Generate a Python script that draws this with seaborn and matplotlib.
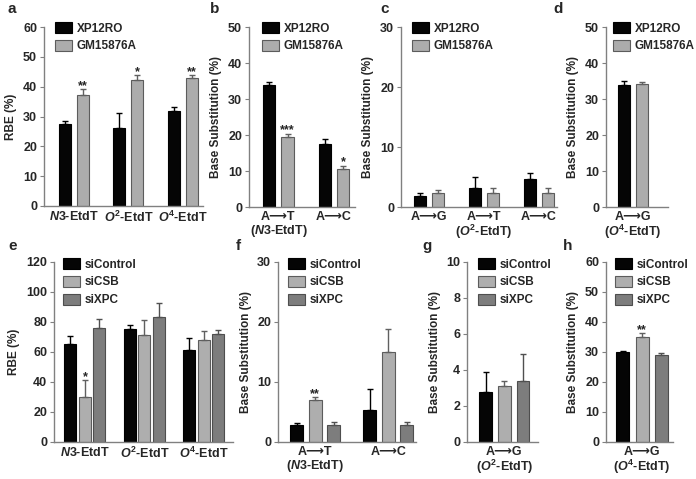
import numpy as np
import pandas as pd
import matplotlib as mpl
import matplotlib.pyplot as plt
from matplotlib.patches import Patch
import seaborn as sns

# values (mean, upper error)
cells_top = ['XP12RO', 'GM15876A']
cells_bot = ['siControl', 'siCSB', 'siXPC']

ARROW = '\u27f6'

a_groups = [r'$\mathit{N}$3-EtdT', r'$\mathit{O}^{\mathrm{2}}$-EtdT', r'$\mathit{O}^{\mathrm{4}}$-EtdT']
a_xp = [27.5, 26.3, 31.7]
a_xp_err = [1.1, 5.0, 1.4]
a_gm = [37.2, 42.1, 42.9]
a_gm_err = [2.0, 1.7, 0.9]
a_stars = [['', '', ''], ['**', '*', '**']]

b_groups = ['A' + ARROW + 'T\n($\\mathit{N}$3-EtdT)', 'A' + ARROW + 'C']
b_xp = [33.8, 17.4]
b_xp_err = [0.9, 1.6]
b_gm = [19.4, 10.5]
b_gm_err = [1.0, 1.0]
b_stars = [['', ''], ['***', '*']]

c_groups = ['A' + ARROW + 'G', 'A' + ARROW + 'T\n($\\mathit{O}^{\\mathrm{2}}$-EtdT)', 'A' + ARROW + 'C']
c_xp = [1.85, 3.2, 4.6]
c_xp_err = [0.5, 1.8, 1.0]
c_gm = [2.4, 2.3, 2.3]
c_gm_err = [0.5, 0.9, 0.9]

d_groups = ['A' + ARROW + 'G\n($\\mathit{O}^{\\mathrm{4}}$-EtdT)']
d_xp = [33.9]
d_xp_err = [1.1]
d_gm = [34.1]
d_gm_err = [0.5]

e_groups = a_groups
e_ctrl = [65.4, 75.2, 61.6]
e_ctrl_err = [5.5, 2.9, 8.0]
e_csb = [29.9, 71.2, 68.3]
e_csb_err = [11.4, 10.0, 5.4]
e_xpc = [75.9, 83.3, 72.3]
e_xpc_err = [5.8, 9.7, 2.3]
e_stars = [['', '', ''], ['*', '', ''], ['', '', '']]

f_groups = b_groups
f_ctrl = [2.8, 5.4]
f_ctrl_err = [0.4, 3.4]
f_csb = [7.0, 15.0]
f_csb_err = [0.5, 3.8]
f_xpc = [2.9, 2.9]
f_xpc_err = [0.4, 0.4]
f_stars = [['', ''], ['**', ''], ['', '']]

g_groups = ['A' + ARROW + 'G\n($\\mathit{O}^{\\mathrm{2}}$-EtdT)']
g_ctrl = [2.8]
g_ctrl_err = [1.1]
g_csb = [3.1]
g_csb_err = [0.3]
g_xpc = [3.4]
g_xpc_err = [1.5]

h_groups = d_groups
h_ctrl = [30.0]
h_ctrl_err = [0.3]
h_csb = [35.1]
h_csb_err = [1.2]
h_xpc = [29.0]
h_xpc_err = [0.7]
h_stars = [[''], ['**'], ['']]

sns.set_style('white')
plt.rcParams['font.family'] = ['Liberation Sans', 'DejaVu Sans']
plt.rcParams['font.weight'] = 'bold'
plt.rcParams['axes.labelweight'] = 'bold'
plt.rcParams['mathtext.fontset'] = 'custom'
plt.rcParams['mathtext.rm'] = 'Liberation Sans:bold'
plt.rcParams['mathtext.it'] = 'Liberation Sans:italic:bold'
plt.rcParams['mathtext.bf'] = 'Liberation Sans:bold'

top_cols = ['#050505', '#acacac']
top_edges = ['#000000', '#5c5c5c']
top_err = ['#000000', '#606060']
bot_cols = ['#050505', '#aeaeae', '#7d7d7d']
bot_edges = ['#000000', '#5c5c5c', '#4e4e4e']
bot_err = ['#000000', '#606060', '#505050']

W, H = 696, 479
fig = plt.figure(figsize=(W / 100, H / 100), dpi=100)


def add_panel(rect, groups, series, values, errors, colors, edges, errcols,
              width, gap, xlim, yticks, ylabel, leg_xy, stars=None):
    l, t, r, b = rect
    ax = fig.add_axes([l / W, 1 - b / H, (r - l) / W, (b - t) / H])
    df = pd.DataFrame({
        'group': [g for s in series for g in groups],
        'series': [s for s in series for g in groups],
        'value': [v for vals in values for v in vals],
    })
    sns.barplot(data=df, x='group', y='value', hue='series', order=groups,
                hue_order=series, palette=dict(zip(series, colors)),
                width=width, gap=gap, errorbar=None, saturation=1,
                linewidth=0.8, legend=False, ax=ax)
    for j, cont in enumerate(list(ax.containers)):
        for bar in cont:
            bar.set_edgecolor(edges[j])
            x = bar.get_x() + bar.get_width() / 2
            i = int(round(x))
            top = bar.get_height()
            err = errors[j][i]
            ax.errorbar(x, top, yerr=[[0], [err]], fmt='none', ecolor=errcols[j],
                        elinewidth=1, capsize=2.3, capthick=1)
            if stars is not None and stars[j][i]:
                ax.annotate(stars[j][i], (x, top + err), ha='center', va='baseline',
                            fontsize=9, fontweight='bold')
    ax.set_xlim(xlim)
    ax.set_ylim(0, yticks[-1])
    ax.set_yticks(yticks)
    ax.set_xticks(range(len(groups)))
    ax.set_xticklabels(groups, fontsize=9, linespacing=1.0)
    ax.set_xlabel('')
    ax.set_ylabel(ylabel, fontsize=8.5, labelpad=4)
    ax.tick_params(axis='y', length=3, width=0.8, color='#808080', pad=2, labelsize=9, left=True)
    ax.tick_params(axis='x', length=0, pad=3)
    sns.despine(ax=ax)
    for side in ['left', 'bottom']:
        ax.spines[side].set_color('#808080')
        ax.spines[side].set_linewidth(1)
    handles = [Patch(facecolor=c, edgecolor=e, linewidth=0.8) for c, e in zip(colors, edges)]
    ax.legend(handles, series, loc='upper left',
              bbox_to_anchor=(leg_xy[0] / W, 1 - leg_xy[1] / H),
              bbox_transform=fig.transFigure, frameon=False, borderpad=0,
              borderaxespad=0, handlelength=1.45, handleheight=1.05,
              handletextpad=0.4, labelspacing=0.45, fontsize=8.5)
    return ax


add_panel((44, 27, 203, 206), a_groups, cells_top, [a_xp, a_gm], [a_xp_err, a_gm_err],
          top_cols, top_edges, top_err, 0.66, 0.33, (-0.55, 2.37),
          [0, 10, 20, 30, 40, 50, 60], 'RBE (%)', (55, 22), a_stars)
add_panel((249, 27, 355, 207), b_groups, cells_top, [b_xp, b_gm], [b_xp_err, b_gm_err],
          top_cols, top_edges, top_err, 0.655, 0.33, (-0.53, 1.38),
          [0, 10, 20, 30, 40, 50], 'Base Substitution (%)', (262, 22), b_stars)
add_panel((401, 27, 557, 207), c_groups, cells_top, [c_xp, c_gm], [c_xp_err, c_gm_err],
          top_cols, top_edges, top_err, 0.655, 0.33, (-0.51, 2.33),
          [0, 10, 20, 30], 'Base Substitution (%)', (412, 22))
add_panel((606, 27, 668, 207), d_groups, cells_top, [d_xp, d_gm], [d_xp_err, d_gm_err],
          top_cols, top_edges, top_err, 0.655, 0.33, (-0.49, 0.64),
          [0, 10, 20, 30, 40, 50], 'Base Substitution (%)', (613, 22))

add_panel((54, 262, 233, 442), e_groups, cells_bot, [e_ctrl, e_csb, e_xpc],
          [e_ctrl_err, e_csb_err, e_xpc_err], bot_cols, bot_edges, bot_err,
          0.73, 0.17, (-0.52, 2.49), [0, 20, 40, 60, 80, 100, 120], 'RBE (%)',
          (63, 258), e_stars)
add_panel((278, 262, 416, 442), f_groups, cells_bot, [f_ctrl, f_csb, f_xpc],
          [f_ctrl_err, f_csb_err, f_xpc_err], bot_cols, bot_edges, bot_err,
          0.76, 0.32, (-0.51, 1.38), [0, 10, 20, 30], 'Base Substitution (%)',
          (288, 258), f_stars)
add_panel((467, 262, 538, 442), g_groups, cells_bot, [g_ctrl, g_csb, g_xpc],
          [g_ctrl_err, g_csb_err, g_xpc_err], bot_cols, bot_edges, bot_err,
          0.76, 0.32, (-0.51, 0.46), [0, 2, 4, 6, 8, 10], 'Base Substitution (%)',
          (478, 258))
add_panel((606, 262, 673, 442), h_groups, cells_bot, [h_ctrl, h_csb, h_xpc],
          [h_ctrl_err, h_csb_err, h_xpc_err], bot_cols, bot_edges, bot_err,
          0.78, 0.32, (-0.49, 0.42), [0, 10, 20, 30, 40, 50, 60], 'Base Substitution (%)',
          (615, 258), h_stars)

for letter, x, y in [('a', 8, 13), ('b', 210, 13), ('c', 380, 13), ('d', 553, 13),
                     ('e', 8, 250), ('f', 236, 250), ('g', 422, 250), ('h', 563, 250)]:
    fig.text(x / W, 1 - y / H, letter, fontsize=11, fontweight='bold', ha='left', va='baseline')

fig.savefig('out.png', dpi=100, facecolor='white')
